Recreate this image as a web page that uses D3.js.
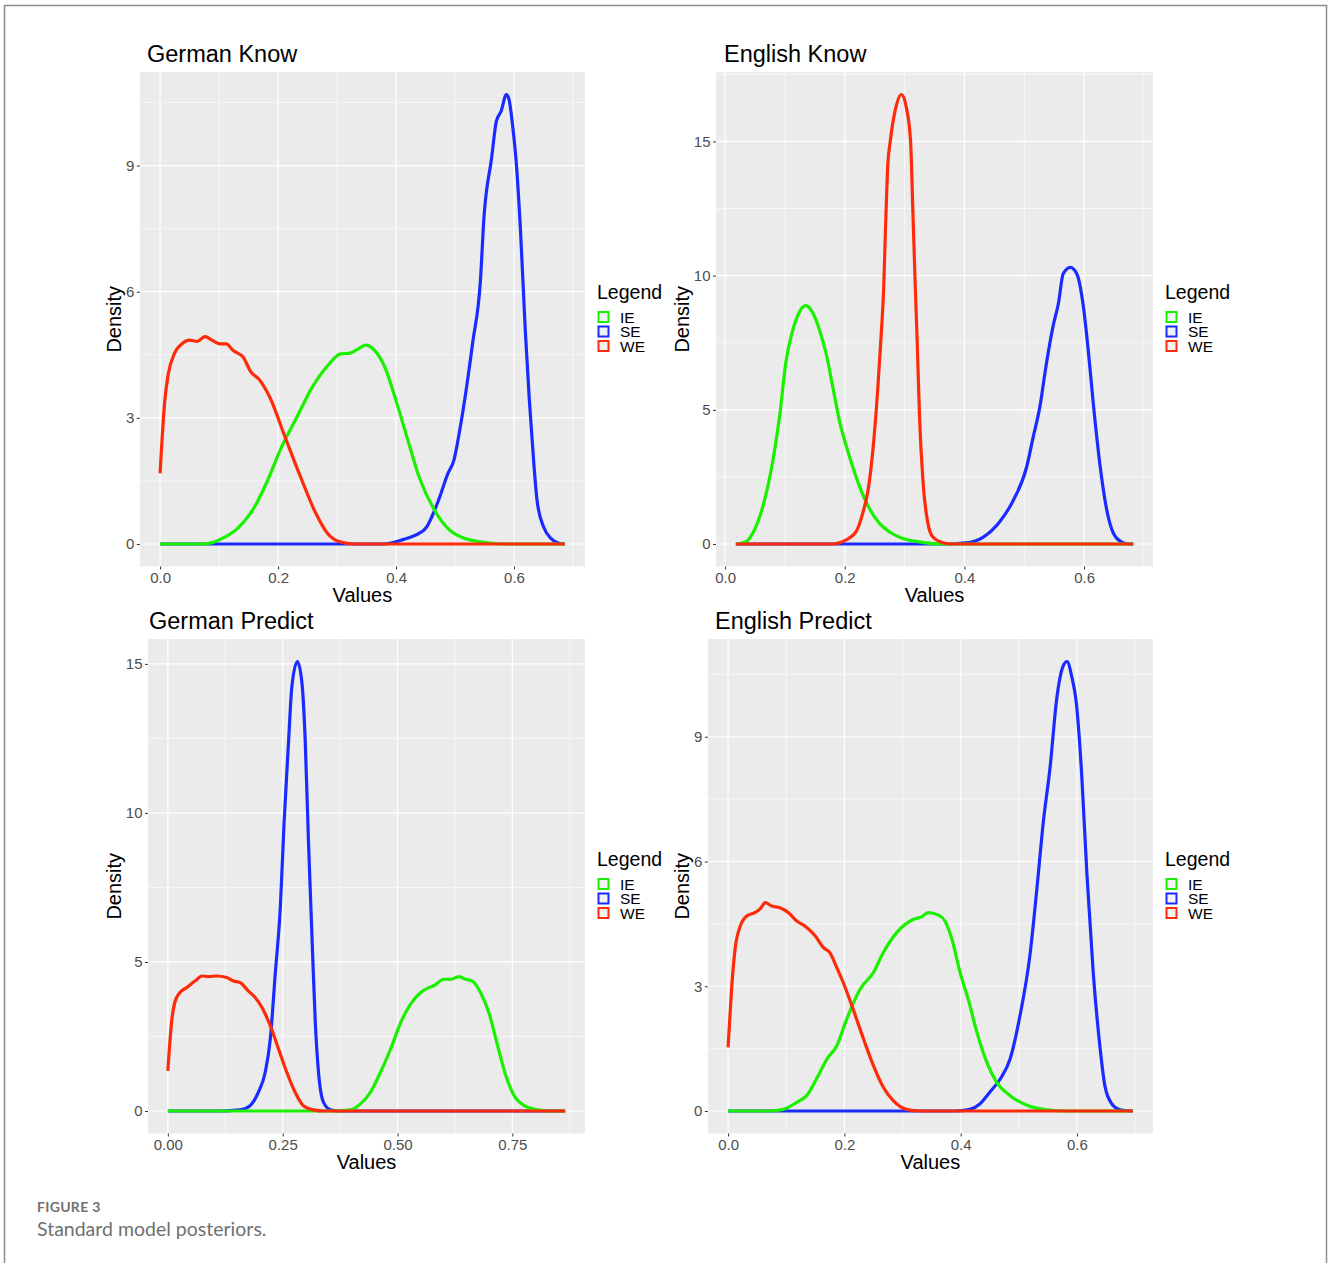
<!DOCTYPE html>
<html>
<head>
<meta charset="utf-8">
<script src="https://cdn.jsdelivr.net/npm/d3@7"></script>
<style>
  body { margin: 0; background: #ffffff; }
  svg { display: block; font-family: "Liberation Sans", Arial, sans-serif; }
</style>
</head>
<body>
<div id="chart"></div>
<script>
// Density curves, as [value, density] pairs

const germanKnowIE = [[0, 0], [0.07, 0], [0.09, 0.04], [0.102, 0.11], [0.128, 0.33], [0.16, 0.88], [0.18, 1.44], [0.206, 2.31], [0.232, 3.02], [0.258, 3.73], [0.284, 4.24], [0.306, 4.52], [0.322, 4.54], [0.336, 4.64], [0.348, 4.73], [0.364, 4.6], [0.38, 4.24], [0.4, 3.41], [0.42, 2.47], [0.439, 1.6], [0.465, 0.81], [0.491, 0.33], [0.517, 0.13], [0.556, 0.03], [0.59, 0], [0.686, 0]];
const germanKnowSE = [[0, 0], [0.38, 0], [0.413, 0.11], [0.433, 0.21], [0.452, 0.41], [0.472, 1.04], [0.488, 1.68], [0.498, 1.99], [0.507, 2.63], [0.517, 3.49], [0.53, 4.8], [0.543, 6.26], [0.549, 7.76], [0.562, 9.18], [0.57, 10.05], [0.578, 10.29], [0.587, 10.69], [0.591, 10.6], [0.598, 9.9], [0.604, 9.03], [0.611, 7.45], [0.619, 5.1], [0.626, 3.41], [0.634, 1.83], [0.639, 1.04], [0.65, 0.41], [0.663, 0.13], [0.676, 0.02], [0.686, 0]];
const germanKnowWE = [[0, 1.68], [0.008, 3.41], [0.014, 4.05], [0.024, 4.52], [0.037, 4.76], [0.05, 4.85], [0.063, 4.82], [0.076, 4.93], [0.089, 4.84], [0.102, 4.76], [0.112, 4.76], [0.124, 4.6], [0.141, 4.44], [0.154, 4.09], [0.167, 3.93], [0.186, 3.49], [0.212, 2.54], [0.238, 1.6], [0.264, 0.73], [0.284, 0.25], [0.303, 0.06], [0.33, 0], [0.686, 0]];

const englishKnowIE = [[0.018, 0], [0.035, 0.09], [0.049, 0.52], [0.063, 1.39], [0.077, 2.75], [0.091, 4.73], [0.102, 6.84], [0.113, 7.96], [0.124, 8.64], [0.135, 8.88], [0.146, 8.64], [0.158, 7.96], [0.169, 7.09], [0.18, 5.85], [0.191, 4.61], [0.208, 3.25], [0.225, 2.13], [0.241, 1.33], [0.258, 0.77], [0.275, 0.45], [0.297, 0.21], [0.325, 0.08], [0.36, 0], [0.682, 0]];
const englishKnowSE = [[0.018, 0], [0.37, 0], [0.403, 0.04], [0.431, 0.25], [0.459, 0.83], [0.482, 1.64], [0.504, 2.87], [0.515, 3.99], [0.526, 5.1], [0.537, 6.72], [0.549, 8.2], [0.557, 8.95], [0.565, 10.06], [0.577, 10.31], [0.588, 10.06], [0.599, 8.82], [0.607, 7.21], [0.616, 5.1], [0.627, 2.87], [0.638, 1.26], [0.649, 0.4], [0.663, 0.07], [0.675, 0], [0.682, 0]];
const englishKnowWE = [[0.018, 0], [0.18, 0], [0.202, 0.15], [0.219, 0.46], [0.23, 1.14], [0.239, 2.01], [0.247, 3.49], [0.255, 5.72], [0.261, 7.83], [0.265, 9.5], [0.268, 11.67], [0.272, 14.15], [0.276, 15.0], [0.284, 16.13], [0.295, 16.75], [0.303, 16.26], [0.31, 15.0], [0.314, 12.3], [0.318, 9.5], [0.321, 7.6], [0.325, 4.73], [0.331, 2.26], [0.339, 0.77], [0.347, 0.27], [0.364, 0.05], [0.38, 0], [0.682, 0]];

const germanPredictIE = [[0, 0], [0.37, 0], [0.397, 0.04], [0.419, 0.23], [0.441, 0.63], [0.463, 1.3], [0.485, 2.08], [0.507, 2.97], [0.528, 3.58], [0.55, 3.97], [0.568, 4.14], [0.579, 4.2], [0.601, 4.42], [0.616, 4.42], [0.634, 4.51], [0.648, 4.42], [0.663, 4.36], [0.681, 3.97], [0.699, 3.3], [0.718, 2.19], [0.736, 1.18], [0.754, 0.51], [0.776, 0.18], [0.805, 0.04], [0.83, 0], [0.865, 0]];
const germanPredictSE = [[0, 0], [0.1, 0], [0.157, 0.04], [0.179, 0.18], [0.197, 0.63], [0.212, 1.3], [0.223, 2.41], [0.234, 4.64], [0.245, 6.87], [0.253, 9.66], [0.263, 12.45], [0.27, 14.24], [0.282, 15.08], [0.292, 14.35], [0.299, 12.45], [0.306, 9.11], [0.314, 5.76], [0.321, 2.97], [0.328, 1.3], [0.339, 0.29], [0.354, 0.04], [0.37, 0], [0.865, 0]];
const germanPredictWE = [[0, 1.35], [0.008, 2.97], [0.015, 3.64], [0.026, 3.97], [0.041, 4.14], [0.059, 4.36], [0.074, 4.53], [0.088, 4.51], [0.106, 4.53], [0.128, 4.48], [0.143, 4.36], [0.157, 4.31], [0.175, 4.03], [0.19, 3.81], [0.205, 3.47], [0.223, 2.86], [0.241, 2.08], [0.259, 1.3], [0.277, 0.63], [0.295, 0.18], [0.317, 0.04], [0.34, 0], [0.865, 0]];

const englishPredictIE = [[0, 0], [0.07, 0], [0.095, 0.04], [0.118, 0.21], [0.135, 0.37], [0.152, 0.77], [0.17, 1.25], [0.187, 1.57], [0.204, 2.21], [0.227, 2.93], [0.25, 3.33], [0.267, 3.81], [0.29, 4.29], [0.319, 4.61], [0.333, 4.67], [0.344, 4.77], [0.362, 4.71], [0.373, 4.57], [0.385, 4.13], [0.399, 3.33], [0.413, 2.69], [0.428, 1.89], [0.445, 1.17], [0.462, 0.69], [0.485, 0.37], [0.514, 0.14], [0.548, 0.03], [0.58, 0], [0.696, 0]];
const englishPredictSE = [[0, 0], [0.39, 0], [0.416, 0.04], [0.433, 0.17], [0.45, 0.45], [0.468, 0.77], [0.485, 1.25], [0.502, 2.29], [0.519, 3.73], [0.531, 5.33], [0.542, 6.93], [0.554, 8.29], [0.565, 9.89], [0.576, 10.69], [0.583, 10.81], [0.591, 10.45], [0.599, 9.81], [0.608, 8.13], [0.617, 5.73], [0.628, 3.33], [0.64, 1.49], [0.648, 0.61], [0.66, 0.17], [0.675, 0.03], [0.696, 0]];
const englishPredictWE = [[0, 1.53], [0.006, 2.93], [0.012, 3.89], [0.021, 4.45], [0.032, 4.69], [0.046, 4.77], [0.055, 4.86], [0.064, 5.01], [0.075, 4.93], [0.089, 4.89], [0.104, 4.77], [0.118, 4.57], [0.132, 4.45], [0.15, 4.21], [0.164, 3.93], [0.175, 3.81], [0.187, 3.45], [0.198, 3.09], [0.215, 2.45], [0.233, 1.73], [0.25, 1.09], [0.267, 0.57], [0.284, 0.25], [0.307, 0.04], [0.33, 0], [0.696, 0]];

// Legend entries and colours
const seriesNames = ["IE", "SE", "WE"];
const seriesColors = ["#1af000", "#1a2bff", "#ff2a0a"];
const drawOrder = ["SE", "IE", "WE"];

// Tick values
const xTicksTenths = [0, 0.2, 0.4, 0.6];
const xTicksQuarters = [0, 0.25, 0.5, 0.75];
const yTicksThrees = [0, 3, 6, 9];
const yTicksFives = [0, 5, 10, 15];

const panelTitles = ["German Know", "English Know", "German Predict", "English Predict"];

// Page layout
const WIDTH = 1328;
const HEIGHT = 1263;
const COL_OFFSET = [0, 568];
const ROW_OFFSET = [0, 567];
const LABEL_START = 126.5;
const PLOT_RIGHT = 585;
const PLOT_TOP = 72;
const PLOT_HEIGHT = 494.5;
const TICK_FONT = 15;

const panels = [
  { title: panelTitles[0], titleX: 147, col: 0, row: 0, xTicks: xTicksTenths, xFormat: d3.format(".1f"), yTicks: yTicksThrees,
    series: { IE: germanKnowIE, SE: germanKnowSE, WE: germanKnowWE } },
  { title: panelTitles[1], titleX: 724, col: 1, row: 0, xTicks: xTicksTenths, xFormat: d3.format(".1f"), yTicks: yTicksFives,
    series: { IE: englishKnowIE, SE: englishKnowSE, WE: englishKnowWE } },
  { title: panelTitles[2], titleX: 149, col: 0, row: 1, xTicks: xTicksQuarters, xFormat: d3.format(".2f"), yTicks: yTicksFives,
    series: { IE: germanPredictIE, SE: germanPredictSE, WE: germanPredictWE } },
  { title: panelTitles[3], titleX: 715, col: 1, row: 1, xTicks: xTicksTenths, xFormat: d3.format(".1f"), yTicks: yTicksThrees,
    series: { IE: englishPredictIE, SE: englishPredictSE, WE: englishPredictWE } },
];

const color = d3.scaleOrdinal().domain(seriesNames).range(seriesColors);

function render() {
  const svg = d3.select("#chart").append("svg").attr("width", WIDTH).attr("height", HEIGHT);
  svg.append("rect").attr("width", WIDTH).attr("height", HEIGHT).attr("fill", "#ffffff");

  drawFrame(svg);
  panels.forEach((p) => renderPanel(svg, p));
  drawCaption(svg);
}

// Thin frame around the figure (bottom edge falls outside the picture)
function drawFrame(svg) {
  svg.append("rect")
    .attr("x", 4.5).attr("y", 5.5)
    .attr("width", 1322).attr("height", HEIGHT + 10)
    .attr("fill", "none").attr("stroke", "#8c8c8c").attr("stroke-width", 1.5);
}

// Width of a tick label in the tick font
function measureText(svg, text) {
  const t = svg.append("text").attr("font-size", TICK_FONT).text(text);
  const w = t.node().getComputedTextLength();
  t.remove();
  return w;
}

// Minor breaks halfway between the major ones, kept inside the domain
function minorBreaks(ticks, domain) {
  const step = ticks[1] - ticks[0];
  return d3.range(ticks[0] - step / 2, domain[1], step).filter((v) => v > domain[0] && v < domain[1]);
}

function renderPanel(svg, panel) {
  const dx = COL_OFFSET[panel.col];
  const dy = ROW_OFFSET[panel.row];

  // Domains with ggplot's 5% expansion
  const allPoints = Object.values(panel.series).flat();
  const xExt = d3.extent(allPoints, (d) => d[0]);
  const yMax = d3.max(allPoints, (d) => d[1]);
  const xPad = (xExt[1] - xExt[0]) * 0.05;
  const yPad = yMax * 0.05;

  const labelWidth = d3.max(panel.yTicks, (t) => measureText(svg, String(t)));
  const left = dx + LABEL_START + Math.min(labelWidth, 16.5) + 5;
  const right = dx + PLOT_RIGHT;
  const top = dy + PLOT_TOP;
  const bottom = top + PLOT_HEIGHT;

  const x = d3.scaleLinear().domain([xExt[0] - xPad, xExt[1] + xPad]).range([left, right]);
  const y = d3.scaleLinear().domain([-yPad, yMax + yPad]).range([bottom, top]);

  const g = svg.append("g");

  // Panel background
  g.append("rect")
    .attr("x", left).attr("y", top)
    .attr("width", right - left).attr("height", bottom - top)
    .attr("fill", "#ebebeb");

  // Grid lines
  const grid = g.append("g").attr("stroke", "#ffffff");
  grid.selectAll(".minor-x").data(minorBreaks(panel.xTicks, x.domain())).enter().append("line")
    .attr("x1", (d) => x(d)).attr("x2", (d) => x(d)).attr("y1", top).attr("y2", bottom).attr("stroke-width", 0.6);
  grid.selectAll(".minor-y").data(minorBreaks(panel.yTicks, y.domain())).enter().append("line")
    .attr("y1", (d) => y(d)).attr("y2", (d) => y(d)).attr("x1", left).attr("x2", right).attr("stroke-width", 0.6);
  grid.selectAll(".major-x").data(panel.xTicks).enter().append("line")
    .attr("x1", (d) => x(d)).attr("x2", (d) => x(d)).attr("y1", top).attr("y2", bottom).attr("stroke-width", 1.2);
  grid.selectAll(".major-y").data(panel.yTicks).enter().append("line")
    .attr("y1", (d) => y(d)).attr("y2", (d) => y(d)).attr("x1", left).attr("x2", right).attr("stroke-width", 1.2);

  // Density curves
  const line = d3.line().x((d) => x(d[0])).y((d) => y(d[1])).curve(d3.curveMonotoneX);
  drawOrder.forEach((name) => {
    g.append("path")
      .attr("d", line(panel.series[name]))
      .attr("fill", "none")
      .attr("stroke", color(name))
      .attr("stroke-width", 3.2)
      .attr("stroke-linejoin", "round");
  });

  // Axes
  const xAxis = g.append("g").attr("transform", `translate(0,${bottom})`)
    .call(d3.axisBottom(x).tickValues(panel.xTicks).tickFormat(panel.xFormat).tickSize(3).tickSizeOuter(0).tickPadding(2.5));
  const yAxis = g.append("g").attr("transform", `translate(${left},0)`)
    .call(d3.axisLeft(y).tickValues(panel.yTicks).tickFormat(d3.format("d")).tickSize(3).tickSizeOuter(0).tickPadding(2.5));
  [xAxis, yAxis].forEach((a) => {
    a.select(".domain").remove();
    a.selectAll(".tick line").attr("stroke", "#333333");
    a.selectAll(".tick text").attr("fill", "#4d4d4d").attr("font-size", TICK_FONT).attr("font-family", "Liberation Sans, Arial, sans-serif");
  });

  // Titles
  g.append("text")
    .attr("x", panel.titleX).attr("y", top - 10)
    .attr("font-size", 23.5).attr("fill", "#000000")
    .text(panel.title);

  g.append("text")
    .attr("x", (left + right) / 2).attr("y", bottom + 35)
    .attr("text-anchor", "middle").attr("font-size", 20).attr("fill", "#000000")
    .text("Values");

  g.append("text")
    .attr("transform", `translate(${dx + 121},${(top + bottom) / 2}) rotate(-90)`)
    .attr("text-anchor", "middle").attr("font-size", 20).attr("fill", "#000000")
    .text("Density");

  addLegend(g, dx + 597, top + 227);
}

// Legend with outlined key squares
function addLegend(g, lx, ly) {
  const legend = g.append("g").attr("transform", `translate(${lx},${ly})`);
  legend.append("text").attr("x", 0).attr("y", 0).attr("font-size", 19.5).attr("fill", "#000000").text("Legend");

  const rows = legend.selectAll(".key").data(seriesNames).enter().append("g")
    .attr("transform", (d, i) => `translate(0,${12.5 + i * 14.5})`);
  rows.append("rect")
    .attr("x", 1.5).attr("y", 0.5).attr("width", 10).attr("height", 10)
    .attr("fill", "#f2f2f2").attr("stroke", (d) => color(d)).attr("stroke-width", 2);
  rows.append("text")
    .attr("x", 23).attr("y", 11)
    .attr("font-size", 15.5).attr("fill", "#000000")
    .text((d) => d);
}

// Figure caption
function drawCaption(svg) {
  svg.append("text")
    .attr("x", 37).attr("y", 1212)
    .attr("font-family", "Lato, 'Open Sans', sans-serif").attr("font-weight", 700)
    .attr("font-size", 14).attr("letter-spacing", 0.3).attr("fill", "#707070")
    .text("FIGURE 3");
  svg.append("text")
    .attr("x", 37).attr("y", 1236)
    .attr("font-family", "Lato, 'Open Sans', sans-serif")
    .attr("font-size", 19.5).attr("fill", "#707070")
    .text("Standard model posteriors.");
}

render();
</script>
</body>
</html>
